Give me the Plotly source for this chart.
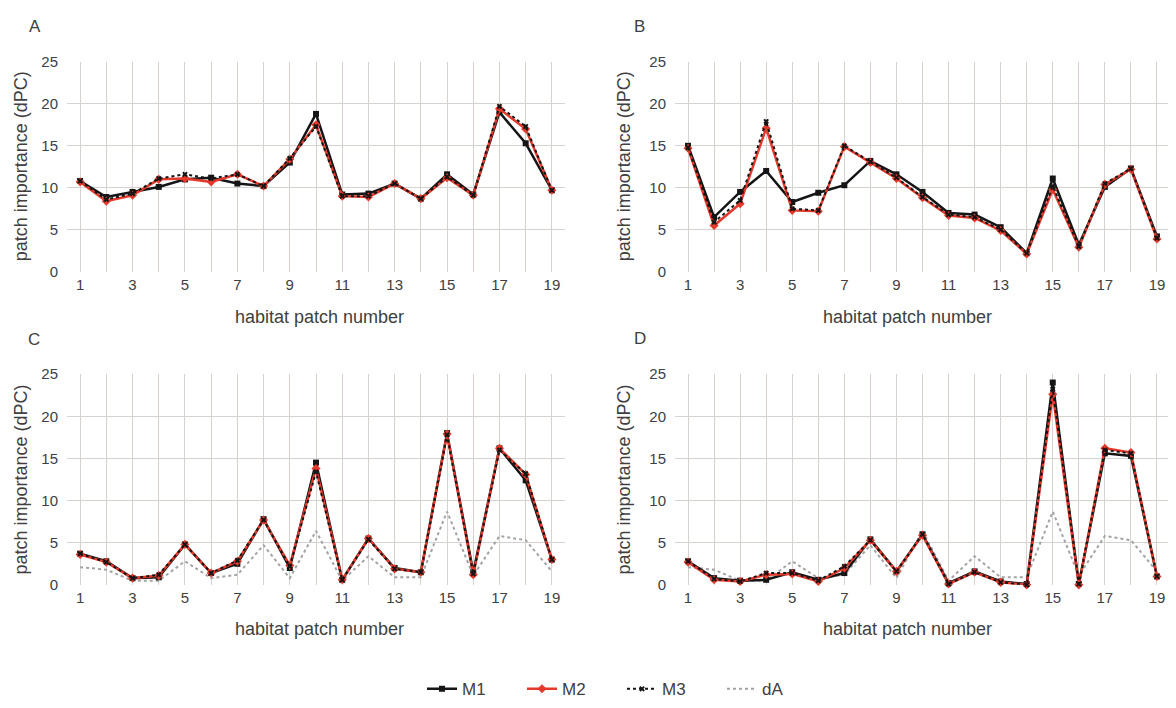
import plotly.graph_objects as go

# ---------------- data ----------------
patches = list(range(1, 20))
x_tick_labels = [str(p) if p % 2 == 1 else "" for p in patches]
y_ticks = [0, 5, 10, 15, 20, 25]

A_M1 = [10.8, 8.9, 9.5, 10.1, 11.0, 11.2, 10.5, 10.2, 13.0, 18.8, 9.2, 9.3, 10.5, 8.7, 11.6, 9.2, 19.0, 15.3, 9.7]
A_M2 = [10.7, 8.4, 9.1, 11.0, 11.1, 10.7, 11.6, 10.2, 13.4, 17.5, 9.0, 8.9, 10.5, 8.7, 11.2, 9.1, 19.4, 17.0, 9.7]
A_M3 = [10.8, 8.6, 9.3, 11.1, 11.6, 11.1, 11.6, 10.2, 13.5, 17.3, 9.0, 9.0, 10.5, 8.7, 11.3, 9.1, 19.7, 17.3, 9.7]

B_M1 = [15.0, 6.5, 9.5, 12.0, 8.3, 9.4, 10.3, 13.2, 11.6, 9.5, 7.0, 6.8, 5.3, 2.2, 11.1, 3.2, 10.1, 12.3, 4.2]
B_M2 = [14.7, 5.5, 8.1, 17.1, 7.3, 7.2, 14.9, 13.0, 11.1, 8.8, 6.7, 6.4, 4.9, 2.1, 9.8, 2.9, 10.4, 12.2, 3.9]
B_M3 = [14.8, 5.9, 8.5, 17.9, 7.5, 7.3, 15.0, 13.1, 11.2, 8.9, 6.8, 6.5, 5.0, 2.2, 10.2, 3.0, 10.5, 12.3, 4.0]

C_M1 = [3.7, 2.8, 0.8, 0.9, 4.8, 1.4, 2.5, 7.8, 2.0, 14.5, 0.6, 5.5, 2.0, 1.5, 18.0, 1.5, 16.2, 12.4, 3.0]
C_M2 = [3.6, 2.7, 0.8, 1.1, 4.8, 1.4, 2.8, 7.7, 2.3, 13.8, 0.6, 5.5, 1.9, 1.5, 17.9, 1.2, 16.2, 13.1, 3.0]
C_M3 = [3.7, 2.7, 0.8, 1.2, 4.8, 1.4, 2.9, 7.7, 2.2, 13.4, 0.6, 5.4, 1.9, 1.5, 17.8, 1.3, 16.0, 13.2, 3.0]

D_M1 = [2.8, 0.8, 0.5, 0.6, 1.5, 0.6, 1.4, 5.4, 1.6, 6.0, 0.2, 1.6, 0.4, 0.1, 24.0, 0.1, 15.6, 15.3, 1.0]
D_M2 = [2.7, 0.6, 0.4, 1.2, 1.3, 0.4, 2.0, 5.3, 1.6, 5.9, 0.1, 1.5, 0.3, 0.0, 22.6, 0.0, 16.2, 15.7, 1.0]
D_M3 = [2.8, 0.7, 0.4, 1.4, 1.4, 0.5, 2.2, 5.3, 1.6, 6.0, 0.1, 1.5, 0.3, 0.0, 23.2, 0.1, 16.0, 15.6, 1.0]

dA = [2.1, 1.8, 0.5, 0.5, 2.8, 0.8, 1.2, 4.7, 0.8, 6.4, 0.5, 3.4, 0.9, 0.9, 8.7, 1.1, 5.8, 5.3, 1.6]

panel_letters = ["A", "B", "C", "D"]
x_title = "habitat patch number"
y_title = "patch importance (dPC)"

# ---------------- styling ----------------
# the page body has an 8px margin, so the figure is drawn 8px in from the window corner
OFF = 8
W, H = 1176 - OFF, 708 - OFF
FONT = "Liberation Sans, Arial, sans-serif"
TXT = "#404040"
GRID = "#d8d2ce"
BLACK = "#151515"
RED = "#e4392b"
GRAY = "#a3a3a3"


def px(x):
    return (x - OFF) / W


def py(y):
    return 1 - (y - OFF) / H


# plot areas in window pixels: (left, right, top, bottom)
areas = [(67, 565, 54, 269), (675, 1170, 54, 269),
         (67, 565, 374, 590), (675, 1170, 374, 590)]

fig = go.Figure()

panels = [(A_M1, A_M2, A_M3, None), (B_M1, B_M2, B_M3, None),
          (C_M1, C_M2, C_M3, dA), (D_M1, D_M2, D_M3, dA)]

for i, (m1, m2, m3, da) in enumerate(panels):
    xa = "x" if i == 0 else f"x{i+1}"
    ya = "y" if i == 0 else f"y{i+1}"
    if da is not None:
        fig.add_trace(go.Scatter(x=patches, y=da, xaxis=xa, yaxis=ya, name="dA", mode="lines",
                                 line=dict(color=GRAY, width=2, dash="dot"), legendrank=4,
                                 showlegend=(i == 2), legendgroup="dA", cliponaxis=False))
    fig.add_trace(go.Scatter(x=patches, y=m1, xaxis=xa, yaxis=ya, name="M1", mode="lines+markers",
                             line=dict(color=BLACK, width=2.5), marker=dict(symbol="square", size=6, color=BLACK),
                             showlegend=(i == 0), legendgroup="M1", legendrank=1, cliponaxis=False))
    fig.add_trace(go.Scatter(x=patches, y=m2, xaxis=xa, yaxis=ya, name="M2", mode="lines+markers",
                             line=dict(color=RED, width=2.5), marker=dict(symbol="diamond", size=7, color=RED),
                             showlegend=(i == 0), legendgroup="M2", legendrank=2, cliponaxis=False))
    fig.add_trace(go.Scatter(x=patches, y=m3, xaxis=xa, yaxis=ya, name="M3", mode="lines+markers",
                             line=dict(color=BLACK, width=2, dash="dot"), marker=dict(symbol="x", size=5, color=BLACK),
                             showlegend=(i == 0), legendgroup="M3", legendrank=3, cliponaxis=False))

layout = {}
for i, (l, r, t, b) in enumerate(areas):
    xk = "xaxis" if i == 0 else f"xaxis{i+1}"
    yk = "yaxis" if i == 0 else f"yaxis{i+1}"
    layout[xk] = dict(domain=[px(l), px(r)], range=[0.5, 19.5], tickvals=patches, ticktext=x_tick_labels,
                      showgrid=True, gridcolor=GRID, gridwidth=1, zeroline=False, showline=False, ticks="",
                      tickfont=dict(size=15, color=TXT, family=FONT), ticklabelstandoff=2,
                      anchor="y" if i == 0 else f"y{i+1}", fixedrange=True)
    layout[yk] = dict(domain=[py(b), py(t)], range=[0, 25], tickvals=y_ticks,
                      showgrid=True, gridcolor=GRID, gridwidth=1, zeroline=False, showline=False, ticks="",
                      tickfont=dict(size=15, color=TXT, family=FONT), ticklabelstandoff=8,
                      anchor="x" if i == 0 else f"x{i+1}", fixedrange=True)

annotations = []
letter_pos = [(35, 18), (639, 18), (34, 339), (640, 338)]
xtitle_pos = [(319, 315), (907, 315), (319, 635), (907, 635)]
ytitle_pos = [(21, 161), (624, 161), (21, 482), (624, 482)]
for i in range(4):
    lx, ly = letter_pos[i]
    annotations.append(dict(text=panel_letters[i], x=px(lx), y=py(ly), xref="paper", yref="paper",
                            showarrow=False, xanchor="center", yanchor="middle",
                            font=dict(size=17, color=TXT, family=FONT)))
    tx, ty = xtitle_pos[i]
    annotations.append(dict(text=x_title, x=px(tx), y=py(ty), xref="paper", yref="paper",
                            showarrow=False, xanchor="center", yanchor="middle",
                            font=dict(size=18, color=TXT, family=FONT)))
    vx, vy = ytitle_pos[i]
    annotations.append(dict(text=y_title, x=px(vx), y=py(vy), xref="paper", yref="paper",
                            showarrow=False, xanchor="center", yanchor="middle", textangle=-90,
                            font=dict(size=18, color=TXT, family=FONT)))

fig.update_layout(
    **layout,
    width=W, height=H,
    margin=dict(l=0, r=0, t=0, b=0),
    paper_bgcolor="white", plot_bgcolor="white",
    font=dict(family=FONT, color=TXT),
    annotations=annotations,
    legend=dict(orientation="h", x=px(622), xanchor="center", y=py(697), yanchor="middle",
                font=dict(size=17, color=TXT, family=FONT), entrywidth=55, entrywidthmode="pixels",
                bgcolor="rgba(0,0,0,0)"),
)

fig.write_html("out.html")
